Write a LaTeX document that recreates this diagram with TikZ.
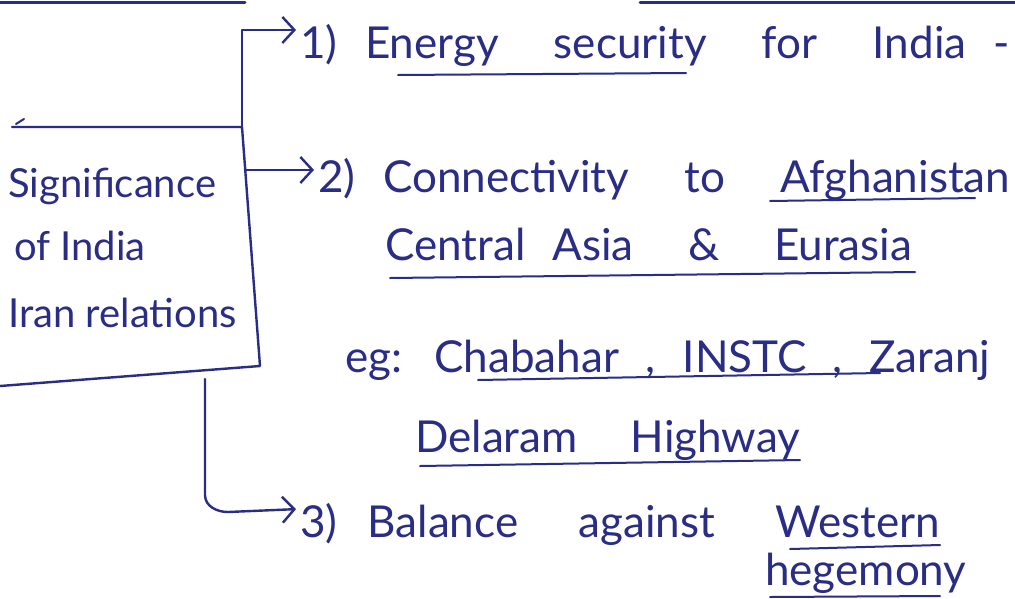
\documentclass[tikz,border=0pt]{standalone}
\usepackage{fontspec}
\setmainfont{Lato}
\usetikzlibrary{arrows.meta}
\definecolor{ink}{HTML}{2A2D86}
\tikzset{
  pen/.style={draw=ink, line width=2.4pt, line cap=round, line join=round},
  conn/.style={pen, shorten >=4pt, >={Straight Barb[length=12pt,width=26pt]}, ->},
  note/.style={anchor=base west, inner sep=0pt, text=ink, font=\fontsize{44}{52}\selectfont},
  boxtext/.style={anchor=base west, inner sep=0pt, text=ink, font=\fontsize{40}{48}\selectfont},
  uline/.style={pen, line width=2pt},
}
\newcommand{\spread}[2]{\makebox[#1][s]{#2}}
\begin{document}
\begin{tikzpicture}[x=1pt,y=-1pt]
\useasboundingbox (0,0) rectangle (1015,598);
\fill[white] (0,0) rectangle (1015,598);

% edge of the block above
\draw[pen, line width=3pt] (0,2) -- (245,2);
\draw[pen, line width=3pt] (640,2) -- (1015,2);

% central box
\coordinate (tl) at (12,127);
\coordinate (tr) at (242,127);
\coordinate (br) at (260,366);
\coordinate (bl) at (0,386);
\draw[pen] (tl) -- (tr) -- (br) -- (bl);
\draw[pen, line width=2pt] (16,124) -- (24,119);

\node[boxtext] (s1) at (8,197) {Significance};
\node[boxtext] (s2) at (14,260) {of India};
\node[boxtext] (s3) at (8,327) {Iran relations};

% points
\node[note] (i1) at (300,58) {\spread{710pt}{1) Energy \ security \ for \ India -}};
\node[note] (i2) at (318,192) {\spread{692pt}{2) Connectivity \ to \ Afghanistan}};
\node[note] (c2) at (385,260) {\spread{527pt}{Central Asia \ \& \ Eurasia}};
\node[note] (e1) at (345,372) {\spread{645pt}{eg: \ Chabahar \ , \ INSTC \ , \ Zaranj}};
\node[note] (e2) at (415,452) {\spread{385pt}{Delaram \ Highway}};
\node[note] (i3) at (300,537) {\spread{640pt}{3) Balance \ against \ Western}};
\node[note] (h3) at (765,585) {hegemony};

% connectors
\coordinate (rx) at (246,0);
\coordinate (bot) at (205,379);
\draw[conn] (tr) |- ([yshift=15pt]i1.west);
\draw[conn] ([yshift=9pt]i2.west -| rx) -- ([yshift=9pt]i2.west);
\draw[conn] (bot) -- (205,495) to[out=-90,in=180] (228,512) -- ([yshift=15pt]i3.west);

% underlines
\draw[uline] (398,75) -- (686,73);
\draw[uline] (770,201) -- (975,198);
\draw[uline] (390,278) -- (915,272);
\draw[uline] (478,380) -- (880,373);
\draw[uline] (420,466) -- (800,460);
\draw[uline] (790,549) -- (940,545);
\draw[uline] (770,597) -- (940,596);
\end{tikzpicture}
\end{document}
